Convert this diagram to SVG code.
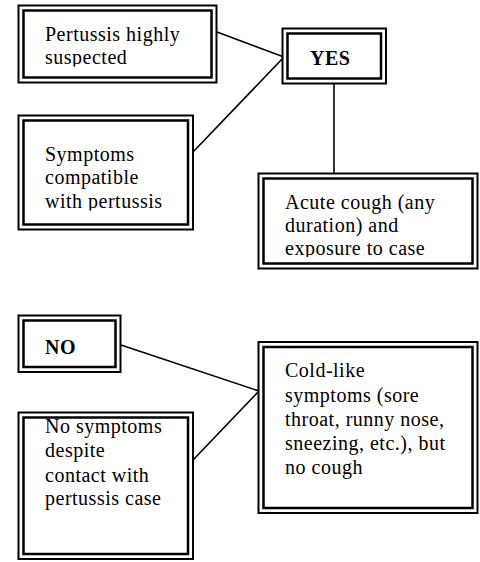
<svg xmlns="http://www.w3.org/2000/svg" width="480" height="562" viewBox="0 0 480 562">
<style>
.o{fill:#fff;stroke:#000;stroke-width:2}
.i{fill:none;stroke:#000;stroke-width:2.5}
.t{font-size:20px;letter-spacing:0.5px;fill:#000}
.b{font-weight:bold}
.c{stroke:#000;stroke-width:1.6;fill:none}
</style>
<defs>
<clipPath id="clipA"><rect x="20" y="10" width="195" height="56.5"/></clipPath>
<clipPath id="clipB"><rect x="20" y="120" width="170" height="90.5"/></clipPath>
<clipPath id="clipC"><rect x="260" y="178" width="215" height="79"/></clipPath>
</defs>
<rect width="480" height="562" fill="#fff"/>
<g id="connectors">
<line class="c" x1="217" y1="32" x2="284" y2="57"/>
<line class="c" x1="193" y1="152" x2="284" y2="57"/>
<line class="c" x1="334" y1="84" x2="334" y2="174"/>
<line class="c" x1="121" y1="345" x2="259" y2="391"/>
<line class="c" x1="193" y1="460" x2="259" y2="391"/>
</g>
<g font-family="'Liberation Serif', 'Times New Roman', 'DejaVu Serif', serif">
<g id="pertussis-suspected">
<rect class="o" x="18.5" y="5.5" width="198" height="77"/>
<rect class="i" x="23.5" y="10.5" width="188" height="67"/>
<text class="t" clip-path="url(#clipA)"><tspan x="45" y="41">Pertussis highly</tspan><tspan x="45" y="64">suspected</tspan></text>
</g>
<g id="symptoms-compatible">
<rect class="o" x="18.5" y="115.5" width="174.5" height="114"/>
<rect class="i" x="23.5" y="120.5" width="164.5" height="104"/>
<text class="t" clip-path="url(#clipB)"><tspan x="45" y="161">Symptoms</tspan><tspan x="45" y="184.3">compatible</tspan><tspan x="45" y="207.5">with pertussis</tspan></text>
</g>
<g id="yes">
<rect class="o" x="282.5" y="28.5" width="103.5" height="55"/>
<rect class="i" x="287.5" y="33.5" width="93.5" height="45"/>
<text class="t b" x="310" y="65">YES</text>
</g>
<g id="acute-cough">
<rect class="o" x="258.5" y="173.5" width="219" height="95"/>
<rect class="i" x="263.5" y="178.5" width="209" height="85"/>
<text class="t" clip-path="url(#clipC)"><tspan x="285" y="209">Acute cough (any</tspan><tspan x="285" y="232">duration) and</tspan><tspan x="285" y="254.5">exposure to case</tspan></text>
</g>
<g id="no">
<rect class="o" x="18.5" y="315.5" width="102" height="56.5"/>
<rect class="i" x="23.5" y="320.5" width="92" height="46.5"/>
<text class="t b" x="45" y="354">NO</text>
</g>
<g id="cold-like">
<rect class="o" x="258.5" y="342" width="219" height="171"/>
<rect class="i" x="263.5" y="347" width="209" height="161"/>
<text class="t"><tspan x="285" y="377">Cold-like</tspan><tspan x="285" y="401.5">symptoms (sore</tspan><tspan x="285" y="426">throat, runny nose,</tspan><tspan x="285" y="450">sneezing, etc.), but</tspan><tspan x="285" y="474">no cough</tspan></text>
</g>
<g id="no-symptoms">
<rect class="o" x="18.5" y="412.5" width="174.5" height="146.5"/>
<rect class="i" x="23.5" y="417.5" width="164.5" height="136.5"/>
<text class="t"><tspan x="45" y="433">No symptoms</tspan><tspan x="45" y="457">despite</tspan><tspan x="45" y="481.5">contact with</tspan><tspan x="45" y="505">pertussis case</tspan></text>
</g>
</g>
</svg>
